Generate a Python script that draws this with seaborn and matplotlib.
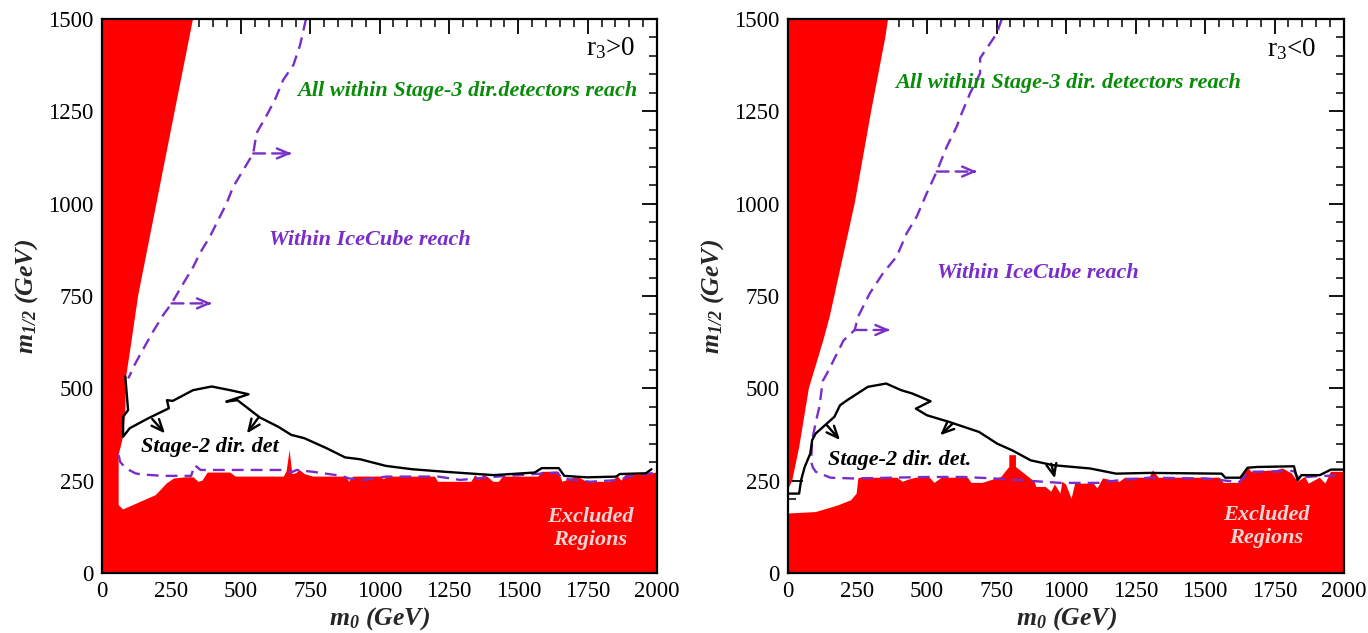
import numpy as np
import pandas as pd
import matplotlib
matplotlib.use("Agg")
import matplotlib.pyplot as plt
from matplotlib.ticker import MultipleLocator
import seaborn as sns

# ---------------- data (m0, m1/2 in GeV) ----------------
# Left panel (r3>0)
L_wall_x = [60, 60, 76, 84, 87, 107, 130, 270, 328]
L_wall_y = [184, 320, 369, 440, 532, 631, 750, 1281, 1500]
L_floor_x = [60, 76, 194, 234, 260, 300, 330, 348, 362, 381, 462, 482, 655, 665, 670, 676, 681, 686,
             700, 712, 730, 760, 880, 890, 905, 1005, 1015, 1030, 1200, 1211, 1331, 1345, 1360, 1375,
             1390, 1410, 1430, 1445, 1572, 1585, 1646, 1659, 1700, 1720, 1746, 1830, 1860, 1872, 1886,
             1960, 2000]
L_floor_y = [184, 172, 211, 243, 256, 259, 259, 247, 250, 272, 272, 261, 261, 275, 300, 333, 300, 268,
             270, 279, 268, 261, 261, 247, 261, 261, 254, 261, 261, 247, 247, 265, 253, 265,
             260, 247, 247, 261, 261, 274, 274, 247, 258, 258, 247, 247, 261, 250, 265,
             268, 272]
L_ice_up_x = [735, 714, 690, 653, 623, 594, 557, 545, 509, 473, 449, 419, 389, 353, 329, 293, 251,
              221, 185, 167, 140, 115, 100, 94]
L_ice_up_y = [1500, 1430, 1376, 1335, 1281, 1240, 1191, 1136, 1091, 1046, 1001, 956, 911, 866, 829,
              784, 730, 699, 655, 631, 595, 560, 535, 527]
L_ice_lo_x = [60, 66, 87, 120, 140, 221, 321, 334, 355, 500, 662, 680, 702, 760, 863, 890, 943, 1023,
              1211, 1291, 1425, 1560, 1639, 1660, 1700, 1759, 1866, 1900, 2000]
L_ice_lo_y = [319, 300, 283, 270, 267, 263, 263, 292, 279, 279, 279, 272, 279, 274, 263, 256, 252, 261,
              261, 252, 261, 268, 272, 256, 252, 247, 252, 262, 272]
L_st2_x = [84, 94, 76, 76, 100, 167, 241, 234, 255, 328, 395, 462, 528, 448, 488, 569, 635, 682, 729,
           809, 876, 930, 1023, 1117, 1237, 1411, 1559, 1585, 1646, 1666, 1746, 1853, 1866, 1960, 1980]
L_st2_y = [532, 441, 423, 369, 392, 419, 446, 468, 466, 495, 505, 495, 484, 464, 468, 421, 396, 374,
           365, 338, 313, 308, 290, 281, 274, 265, 272, 284, 284, 263, 259, 261, 268, 270, 281]
L_ice_arrows = [(545, 1136, 683, 1136), (251, 730, 395, 730)]
L_st2_arrows = [(181, 417, 227, 378), (562, 419, 522, 378)]

# Right panel (r3<0)
R_wall_x = [0, 15, 40, 75, 127, 150, 240, 300, 350, 360]
R_wall_y = [225, 250, 340, 500, 630, 694, 1001, 1254, 1450, 1500]
R_floor_x = [0, 100, 180, 227, 247, 253, 260, 393, 413, 430, 460, 510, 527, 553, 647, 660, 700, 767,
             796, 796, 820, 820, 887, 893, 927, 947, 960, 980, 987, 1000, 1020, 1033, 1100, 1113,
             1133, 1193, 1213, 1300, 1313, 1333, 1553, 1567, 1620, 1653, 1667, 1753, 1780, 1813,
             1833, 1860, 1873, 1913, 1933, 1953, 2000]
R_floor_y = [161, 165, 183, 197, 215, 256, 258, 258, 247, 252, 258, 258, 244, 258, 258, 244, 244, 260,
             287, 319, 319, 287, 247, 233, 233, 220, 240, 215, 247, 240, 201, 242, 242, 229,
             256, 247, 258, 258, 278, 258, 258, 244, 244, 287, 274, 278, 283, 269,
             247, 260, 242, 258, 242, 274, 274]
R_ice_x = [769, 751, 727, 691, 691, 655, 625, 607, 571, 535, 499, 463, 427, 391, 342, 294, 252, 240,
           200, 160, 140, 125, 113, 100, 87, 83, 90, 100, 153, 233, 367, 500, 633, 740, 860, 980,
           1113, 1200, 1300, 1500, 1600, 1620, 1660, 1820, 1835, 1900, 2000]
R_ice_y = [1500, 1461, 1434, 1394, 1353, 1299, 1245, 1209, 1154, 1087, 1028, 965, 920, 857, 812, 757,
           694, 658, 630, 570, 540, 520, 450, 409, 360, 301, 285, 274, 258, 256, 258, 260, 260, 256,
           250, 244, 244, 252, 258, 256, 248, 244, 274, 276, 258, 262, 265]
R_st2_x = [0, 40, 47, 60, 80, 87, 100, 167, 187, 213, 287, 353, 407, 447, 513, 460, 500, 580, 687,
           753, 807, 873, 953, 1087, 1180, 1300, 1560, 1573, 1627, 1653, 1687, 1820, 1833, 1847,
           1913, 1953, 2000]
R_st2_y = [215, 215, 251, 287, 323, 360, 378, 423, 454, 468, 504, 513, 495, 486, 465, 445, 427, 409,
           382, 350, 332, 305, 292, 283, 269, 271, 269, 258, 258, 285, 287, 289, 251, 265,
           265, 280, 280]
R_ice_arrows = [(535, 1087, 679, 1087), (240, 658, 367, 658)]
R_st2_arrows = [(140, 400, 187, 360), (593, 405, 547, 373), (947, 296, 960, 256)]

x_ticks = [0, 250, 500, 750, 1000, 1250, 1500, 1750, 2000]
y_ticks = [0, 250, 500, 750, 1000, 1250, 1500]

# ---------------- style ----------------
sns.set_theme(style="ticks")
plt.rcParams['font.family'] = ['Liberation Serif', 'DejaVu Serif']
plt.rcParams['mathtext.fontset'] = 'custom'
plt.rcParams['mathtext.rm'] = 'Liberation Serif'
plt.rcParams['mathtext.it'] = 'Liberation Serif:italic'
plt.rcParams['mathtext.bf'] = 'Liberation Serif:bold'
plt.rcParams['mathtext.bfit'] = 'Liberation Serif:italic:bold'

RED = '#ff0000'
PURPLE = '#7a2ec8'
GREEN = '#0a8c0a'
EXCL = '#e8d6d6'
DASH = (0, (5, 3))
FS = 16

fig = plt.figure(figsize=(13.68, 6.33), dpi=100)
W, H = 1368, 633
axL = fig.add_axes([102 / W, 1 - 573 / H, 555 / W, 554 / H])
axR = fig.add_axes([788 / W, 1 - 573 / H, 556 / W, 554 / H])


def red_region(ax, wall_x, wall_y, floor_x, floor_y):
    px = [0, 2000] + floor_x[::-1] + wall_x + [0]
    py = [0, 0] + floor_y[::-1] + wall_y + [1500]
    ax.fill(px, py, color=RED, lw=0, zorder=1)


def line(ax, xs, ys, color, ls='-'):
    df = pd.DataFrame({'x': xs, 'y': ys})
    sns.lineplot(data=df, x='x', y='y', sort=False, estimator=None, ax=ax,
                 color=color, linewidth=1.7, linestyle=ls, zorder=3)


def arrows(ax, arr, color, dashed=False):
    head = '->,head_length=0.7,head_width=0.3'
    for x0, y0, x1, y1 in arr:
        if dashed:
            ax.annotate('', xy=(x1 - 8, y1), xytext=(x0, y0),
                        arrowprops=dict(arrowstyle='-', color=color, lw=1.7,
                                        linestyle=(0, (5, 3)), shrinkA=0, shrinkB=0), zorder=3)
            ax.annotate('', xy=(x1, y1), xytext=(x1 - 10, y1),
                        arrowprops=dict(arrowstyle=head, color=color, lw=1.7,
                                        shrinkA=0, shrinkB=0), zorder=3)
        else:
            ax.annotate('', xy=(x1, y1), xytext=(x0, y0),
                        arrowprops=dict(arrowstyle=head, color=color, lw=1.7,
                                        shrinkA=0, shrinkB=0), zorder=3)


def setup(ax):
    ax.set_xlim(0, 2000)
    ax.set_ylim(0, 1500)
    ax.set_xticks(x_ticks)
    ax.set_yticks(y_ticks)
    ax.set_xticklabels([str(v) for v in x_ticks])
    ax.set_yticklabels([str(v) for v in y_ticks])
    ax.xaxis.set_minor_locator(MultipleLocator(50))
    ax.yaxis.set_minor_locator(MultipleLocator(50))
    ax.tick_params(which='both', direction='in', top=True, right=True, colors='black',
                   labelsize=16.5, pad=6)
    ax.tick_params(which='major', length=11, width=1.3)
    ax.tick_params(which='minor', length=6, width=1.1)
    for s in ax.spines.values():
        s.set_linewidth(1.6)
        s.set_color('black')
        s.set_zorder(5)
    ax.set_xlabel(r'$\mathbfit{m}_{\mathbfit{0}}$ (GeV)', fontsize=18.5, fontweight='bold',
                  style='italic', labelpad=2)
    ax.set_ylabel(r'$\mathbfit{m}_{\mathbfit{1/2}}$ (GeV)', fontsize=18.5, fontweight='bold',
                  style='italic', labelpad=6)
    ax.set_facecolor('white')


# Left panel
red_region(axL, L_wall_x, L_wall_y, L_floor_x, L_floor_y)
line(axL, L_ice_up_x, L_ice_up_y, PURPLE, DASH)
line(axL, L_ice_lo_x, L_ice_lo_y, PURPLE, DASH)
line(axL, L_st2_x, L_st2_y, 'black')
arrows(axL, L_ice_arrows, PURPLE, dashed=True)
arrows(axL, L_st2_arrows, 'black')
setup(axL)
bi = dict(fontweight='bold', style='italic', zorder=4)
axL.text(1318, 1306, 'All within Stage-3 dir.detectors reach', color=GREEN, fontsize=FS,
         ha='center', va='center', **bi)
axL.text(966, 902, 'Within IceCube reach', color=PURPLE, fontsize=FS, ha='center', va='center', **bi)
axL.text(387, 340, 'Stage-2 dir. det', color='black', fontsize=FS, ha='center', va='center', **bi)
axL.text(1759, 152, 'Excluded', color=EXCL, fontsize=FS, ha='center', va='center', **bi)
axL.text(1759, 89, 'Regions', color=EXCL, fontsize=FS, ha='center', va='center', **bi)
axL.text(1922, 1403, r'r$_3$>0', color='black', fontsize=19.5, ha='right', va='baseline', zorder=4)

# Right panel
red_region(axR, R_wall_x, R_wall_y, R_floor_x, R_floor_y)
line(axR, R_ice_x, R_ice_y, PURPLE, DASH)
line(axR, R_st2_x, R_st2_y, 'black')
arrows(axR, R_ice_arrows, PURPLE, dashed=True)
arrows(axR, R_st2_arrows, 'black')
setup(axR)
axR.text(1006, 1327, 'All within Stage-3 dir. detectors reach', color=GREEN, fontsize=FS,
         ha='center', va='center', **bi)
axR.text(898, 812, 'Within IceCube reach', color=PURPLE, fontsize=FS, ha='center', va='center', **bi)
axR.text(403, 307, 'Stage-2 dir. det.', color='black', fontsize=FS, ha='center', va='center', **bi)
axR.text(1720, 156, 'Excluded', color=EXCL, fontsize=FS, ha='center', va='center', **bi)
axR.text(1720, 96, 'Regions', color=EXCL, fontsize=FS, ha='center', va='center', **bi)
axR.text(1900, 1400, r'r$_3$<0', color='black', fontsize=19.5, ha='right', va='baseline', zorder=4)

fig.savefig('out.png', dpi=100, facecolor='white')
